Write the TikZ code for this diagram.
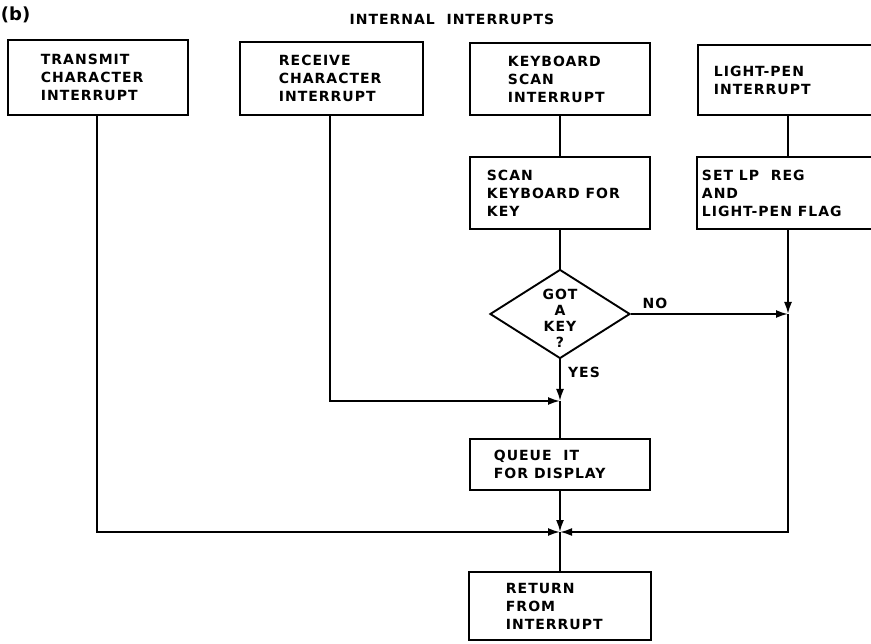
\documentclass[tikz,border=0pt]{standalone}
\usepackage{fontspec}
\newfontfamily\lblfont[LetterSpace=7]{DejaVu Sans}
\newfontfamily\tagfont{DejaVu Sans}
\usetikzlibrary{arrows.meta,shapes.geometric}
\begin{document}
\begin{tikzpicture}[x=1pt,y=-1pt,
  line width=1.9pt,
  box/.style={draw, rectangle, inner sep=0pt},
  txt/.style={font=\lblfont\bfseries\fontsize{14}{18}\selectfont, align=left, anchor=west, inner sep=0pt},
  ctxt/.style={font=\lblfont\bfseries\fontsize{14}{16}\selectfont, align=center, anchor=center, inner sep=0pt},
  flow/.style={-{Latex[length=12pt,width=8pt]}}
]
\useasboundingbox (0,0) rectangle (871,644);

% titles
\node[font=\tagfont\bfseries\fontsize{18}{20}\selectfont, anchor=west, inner sep=0pt] (tag) at (0,15) {(b)};
\node[ctxt] (head) at (452,19) {INTERNAL\ \ INTERRUPTS};

% boxes
\node[box, minimum width=180pt, minimum height=75pt] (tx) at (98,77.5) {};
\node[txt] (txt-tx) at (40,77.5) {TRANSMIT\\CHARACTER\\INTERRUPT};

\node[box, minimum width=183pt, minimum height=73pt] (rx) at (331.5,78.5) {};
\node[txt] (txt-rx) at (278,78.5) {RECEIVE\\CHARACTER\\INTERRUPT};

\node[box, minimum width=180pt, minimum height=72pt] (kb) at (560,79) {};
\node[txt] (txt-kb) at (507,79) {KEYBOARD\\SCAN\\INTERRUPT};

\node[box, minimum width=182pt, minimum height=70pt] (lp) at (789,80) {};
\node[txt] (txt-lp) at (713,80) {LIGHT-PEN\\INTERRUPT};

\node[box, minimum width=180pt, minimum height=72pt] (scan) at (560,193) {};
\node[txt] (txt-scan) at (486,193) {SCAN\\KEYBOARD FOR\\KEY};

\node[box, minimum width=183pt, minimum height=72pt] (setlp) at (788.5,193) {};
\node[txt] (txt-setlp) at (701,193) {SET LP\ \ REG\\AND\\LIGHT-PEN FLAG};

\node[draw, diamond, minimum width=140pt, minimum height=89pt, inner sep=0pt] (dec) at (560,314) {};
\node[ctxt] (txt-dec) at (560,318) {GOT\\A\\KEY\\?};

\node[box, minimum width=180pt, minimum height=51pt] (queue) at (560,464.5) {};
\node[txt] (txt-queue) at (493,464.5) {QUEUE\ \ IT\\FOR DISPLAY};

\node[box, minimum width=182pt, minimum height=68pt] (ret) at (560,606) {};
\node[txt] (txt-ret) at (505,606) {RETURN\\FROM\\INTERRUPT};

% labels
\node[ctxt] (no) at (655,303) {NO};
\node[ctxt] (yes) at (584,372) {YES};

% junctions
\coordinate (jq) at (560,401);
\coordinate (jn) at (788,314);
\coordinate (jr) at (560,532);

% connectors
\draw (kb.south) -- (scan.north);
\draw (scan.south) -- (dec.north);
\draw[flow] (dec.south) -- (jq);
\draw (jq) -- (queue.north);
\draw[flow] (rx.south -| 330,0) |- (jq);
\draw[flow] (dec.east) -- (jn);
\draw (lp.south -| jn) -- (setlp.north -| jn);
\draw[flow] (setlp.south -| jn) -- (jn);
\draw[flow] (jn) |- (jr);
\draw[flow] (tx.south -| 97,0) |- (jr);
\draw[flow] (queue.south) -- (jr);
\draw (jr) -- (ret.north);
\end{tikzpicture}
\end{document}
